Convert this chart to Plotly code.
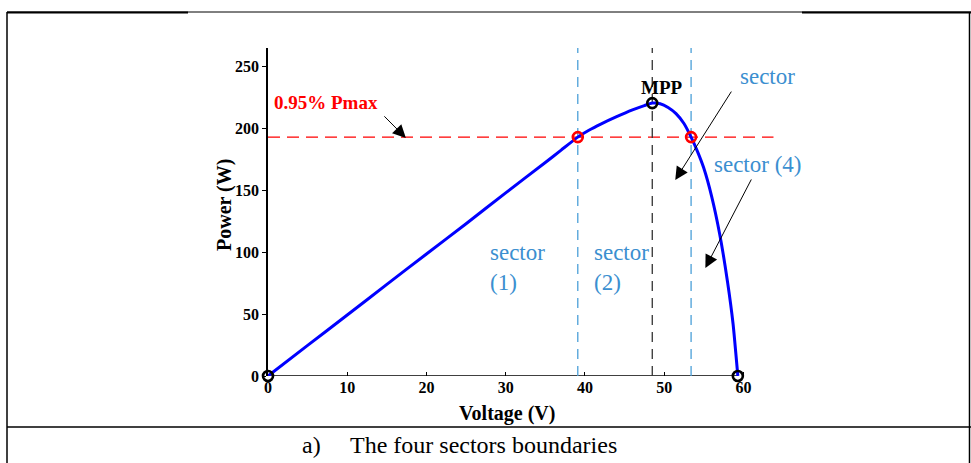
import plotly.graph_objects as go

# P-V curve of the PV module
voltage = [0, 5, 10, 15, 20, 25, 30, 35, 37, 39.1, 40.5, 42, 44, 46, 47.5,
           48.5, 49.5, 50.5, 51.5, 52.5, 53.4, 54.2, 55, 56, 57, 58, 58.7, 59.3]
power = [0, 24.7, 49.3, 74, 98.6, 123, 148, 172.5, 182.5, 193, 198.5, 203.5,
         209.5, 215, 218.5, 220.5, 220, 217, 212, 204, 193, 181.5, 168, 145,
         115, 76, 42, 0]

# characteristic points
v_mpp, p_mpp = 48.5, 220.5
v_oc = 59.3
p_band = 193          # 0.95 Pmax level
v_band_low, v_band_high = 39.1, 53.4

x_ticks = [0, 10, 20, 30, 40, 50, 60]
y_ticks = [0, 50, 100, 150, 200, 250]

W, H = 971, 463
ML, MR, MT, MB = 268, 188, 48, 87
PW, PH = W - ML - MR, H - MT - MB

SERIF = "Liberation Serif, Times New Roman, serif"
SECTOR_BLUE = "#3b8fd0"
LINE_BLUE = "#4ba0d8"


def px(x):
    return (x - ML) / PW


def py(y):
    return (H - MB - y) / PH


fig = go.Figure()

fig.add_trace(go.Scatter(
    x=voltage, y=power, mode="lines",
    line=dict(color="#0000ff", width=3, shape="spline", smoothing=0.5),
    hoverinfo="skip", showlegend=False, cliponaxis=False,
))

fig.add_trace(go.Scatter(
    x=[0, v_mpp, v_oc], y=[0, p_mpp, 0], mode="markers",
    marker=dict(symbol="circle-open", size=10, color="black",
                line=dict(width=2.6, color="black")),
    showlegend=False, cliponaxis=False,
))
fig.add_trace(go.Scatter(
    x=[v_band_low, v_band_high], y=[p_band, p_band], mode="markers",
    marker=dict(symbol="circle-open", size=10, color="red",
                line=dict(width=2.6, color="red")),
    showlegend=False, cliponaxis=False,
))

shapes = [
    # x axis line up to the open-circuit voltage
    dict(type="line", xref="x", yref="y", x0=0, x1=v_oc, y0=0, y1=0,
         line=dict(color="black", width=1.5), layer="below"),
    # 0.95 Pmax level
    dict(type="line", xref="x", yref="y", x0=0, x1=63.8, y0=p_band, y1=p_band,
         line=dict(color="red", width=1.3, dash="12px,7px"), layer="below"),
    # sector boundaries
    dict(type="line", xref="x", yref="y", x0=v_band_low, x1=v_band_low, y0=0, y1=265,
         line=dict(color=LINE_BLUE, width=1.3, dash="10px,7px"), layer="below"),
    dict(type="line", xref="x", yref="y", x0=v_band_high, x1=v_band_high, y0=0, y1=265,
         line=dict(color=LINE_BLUE, width=1.3, dash="10px,7px"), layer="below"),
    dict(type="line", xref="x", yref="y", x0=v_mpp, x1=v_mpp, y0=0, y1=265,
         line=dict(color="#333333", width=1.3, dash="10px,7px"), layer="below"),
    # table frame around the figure
    dict(type="line", xref="paper", yref="paper", x0=px(7), x1=px(971), y0=py(12), y1=py(12),
         line=dict(color="black", width=1)),
    dict(type="line", xref="paper", yref="paper", x0=px(7), x1=px(188), y0=py(12.5), y1=py(12.5),
         line=dict(color="black", width=2)),
    dict(type="line", xref="paper", yref="paper", x0=px(802), x1=px(971), y0=py(12.5), y1=py(12.5),
         line=dict(color="black", width=2)),
    dict(type="line", xref="paper", yref="paper", x0=px(7), x1=px(7), y0=py(12), y1=py(463),
         line=dict(color="black", width=1.5)),
    dict(type="line", xref="paper", yref="paper", x0=px(969.5), x1=px(969.5), y0=py(12), y1=py(463),
         line=dict(color="black", width=1.5)),
    dict(type="line", xref="paper", yref="paper", x0=px(7), x1=px(971), y0=py(427), y1=py(427),
         line=dict(color="black", width=1.5)),
]

ARROW = dict(showarrow=True, arrowhead=2, arrowsize=2.6, arrowwidth=1,
             arrowcolor="black", text="", xref="x", yref="y", axref="x", ayref="y")

annotations = [
    dict(x=0.5, y=220.6, xref="x", yref="y", text="<b>0.95% Pmax</b>", showarrow=False,
         xanchor="left", yanchor="middle", font=dict(family=SERIF, size=19, color="red")),
    dict(x=17.4, y=192.3, ax=14.5, ay=211, **ARROW),
    dict(x=49.7, y=232.7, xref="x", yref="y", text="<b>MPP</b>", showarrow=False,
         xanchor="center", yanchor="middle", font=dict(family=SERIF, size=19, color="black")),
    dict(x=59.3, y=241.6, xref="x", yref="y", text="sector", showarrow=False,
         xanchor="left", yanchor="middle", font=dict(family=SERIF, size=23, color=SECTOR_BLUE)),
    dict(x=51.4, y=158.4, ax=58.6, ay=231, **ARROW),
    dict(x=56.0, y=170.5, xref="x", yref="y", text="sector (4)", showarrow=False,
         xanchor="left", yanchor="middle", font=dict(family=SERIF, size=23, color=SECTOR_BLUE)),
    dict(x=55.2, y=87.3, ax=61.1, ay=160, **ARROW),
    dict(x=27.8, y=87.5, xref="x", yref="y", text="sector<br>(1)", showarrow=False, align="left",
         xanchor="left", yanchor="middle", font=dict(family=SERIF, size=23, color=SECTOR_BLUE)),
    dict(x=40.9, y=87.5, xref="x", yref="y", text="sector<br>(2)", showarrow=False, align="left",
         xanchor="left", yanchor="middle", font=dict(family=SERIF, size=23, color=SECTOR_BLUE)),
    # axis titles
    dict(x=px(224), y=py(205), xref="paper", yref="paper", text="<b>Power (W)</b>", showarrow=False,
         xanchor="center", yanchor="middle", textangle=-90,
         font=dict(family=SERIF, size=20, color="black")),
    dict(x=px(507), y=py(413), xref="paper", yref="paper", text="<b>Voltage (V)</b>", showarrow=False,
         xanchor="center", yanchor="middle", font=dict(family=SERIF, size=20, color="black")),
    # caption
    dict(x=px(300), y=py(445), xref="paper", yref="paper", text="a)", showarrow=False,
         xanchor="left", yanchor="middle", font=dict(family=SERIF, size=24, color="black")),
    dict(x=px(348), y=py(445), xref="paper", yref="paper", text="The four sectors boundaries",
         showarrow=False, xanchor="left", yanchor="middle",
         font=dict(family=SERIF, size=24, color="black")),
]

fig.update_layout(
    width=W, height=H,
    margin=dict(l=ML, r=MR, t=MT, b=MB, pad=0),
    paper_bgcolor="white", plot_bgcolor="white",
    showlegend=False,
    shapes=shapes,
    annotations=annotations,
    font=dict(family=SERIF, color="black"),
)

fig.update_xaxes(
    range=[0, 65], tickvals=x_ticks, ticktext=[f"<b>{v}</b>" for v in x_ticks],
    showline=False, showgrid=False, zeroline=False,
    ticks="inside", ticklen=4, tickwidth=1, tickcolor="black",
    tickfont=dict(family=SERIF, size=16, color="black"),
)
fig.update_yaxes(
    range=[0, 265], tickvals=y_ticks, ticktext=[f"<b>{v}</b>" for v in y_ticks],
    showline=True, linecolor="black", linewidth=1.5, showgrid=False, zeroline=False,
    ticks="outside", ticklen=4, tickwidth=1, tickcolor="black",
    tickfont=dict(family=SERIF, size=16, color="black"),
)

fig.write_html("out.html")
